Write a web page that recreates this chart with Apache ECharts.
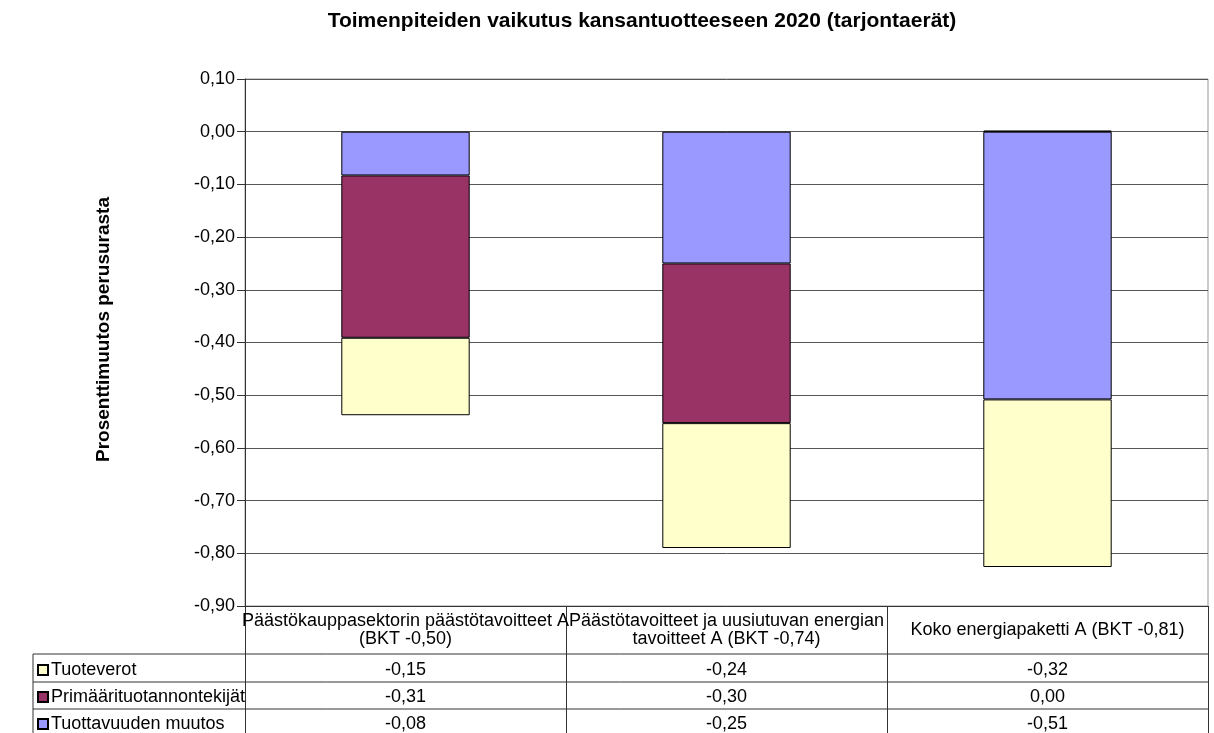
<!DOCTYPE html>
<html>
  <head>
  <meta charset="utf-8">
  <script type="text/javascript" src="https://cdn.jsdelivr.net/npm/echarts@6/dist/echarts.min.js"></script>
  </head>
  <body style="margin:0">
 <div id="main" style="width:1214px;height:733px;"></div>

 <script type="text/javascript">

// toimenpiteet (kategoriat)
var categories = [
  'Päästökauppasektorin päästötavoitteet A\n(BKT -0,50)',
  'Päästötavoitteet ja uusiutuvan energian\ntavoitteet A (BKT -0,74)',
  'Koko energiapaketti A (BKT -0,81)'
];
// sarjat, luettu pylväistä
var tuoteverot = [-0.147, -0.237, -0.318];
var primaari = [-0.308, -0.303, 0.002];
var tuottavuus = [-0.083, -0.25, -0.508];

var seriesNames = ['Tuottavuuden muutos', 'Primäärituotannontekijät', 'Tuoteverot'];
var colors = ['#9999ff', '#993366', '#ffffcc'];
// taulukon rivijärjestys
var tableRows = ['Tuoteverot', 'Primäärituotannontekijät', 'Tuottavuuden muutos'];

var font = "'Liberation Sans', Arial, sans-serif";

function fmt(v) {
  var r = Math.round(v * 100) / 100;
  if (r === 0) r = 0;
  return r.toFixed(2).replace('.', ',');
}

var myChart = echarts.init(document.getElementById('main'));

var gridLeft = 245, gridRight = 1208, gridTop = 79, gridBottom = 606;
var rowMid = [670, 697, 724];

// taulukon lisäakselit
function rowAxis(values, margin) {
  return {
    type: 'category',
    position: 'bottom',
    gridIndex: 0,
    data: values.map(fmt),
    axisLine: { show: false, onZero: false },
    axisTick: { show: false },
    splitLine: { show: false },
    axisLabel: {
      interval: 0,
      margin: margin,
      verticalAlign: 'middle',
      color: '#000',
      fontSize: 18,
      fontFamily: font
    }
  };
}

// yksi selite per taulukon rivi
function rowLegend(name, i) {
  return {
    orient: 'vertical',
    left: 37,
    top: rowMid[i] - 9,
    padding: 0,
    itemWidth: 10,
    itemHeight: 10,
    icon: 'rect',
    data: [name],
    selectedMode: false,
    textStyle: { fontSize: 18, lineHeight: 18, color: '#000', fontFamily: font, padding: [0, 0, 0, -2] }
  };
}

var data = [tuottavuus, primaari, tuoteverot];

var option = {
  animation: false,
  backgroundColor: '#fff',
  title: {
    text: 'Toimenpiteiden vaikutus kansantuotteeseen 2020 (tarjontaerät)',
    left: 637,
    textAlign: 'center',
    top: 6,
    textStyle: { fontSize: 21, fontWeight: 'bold', color: '#000', fontFamily: font }
  },
  legend: tableRows.map(rowLegend),
  grid: {
    left: gridLeft,
    right: 1214 - gridRight,
    top: gridTop,
    bottom: 733 - gridBottom,
    show: true,
    borderColor: '#999',
    borderWidth: 1
  },
  xAxis: [
    {
      type: 'category',
      position: 'bottom',
      data: categories,
      axisLine: { onZero: false, lineStyle: { color: '#333', width: 1 } },
      axisTick: { show: true, interval: 0, length: 127, lineStyle: { color: '#333' } },
      axisLabel: {
        interval: 0,
        margin: 24,
        verticalAlign: 'middle',
        lineHeight: 18,
        color: '#000',
        fontSize: 18,
        fontFamily: font
      }
    },
    rowAxis(tuoteverot, rowMid[0] - gridBottom),
    rowAxis(primaari, rowMid[1] - gridBottom),
    rowAxis(tuottavuus, rowMid[2] - gridBottom)
  ],
  yAxis: {
    type: 'value',
    min: -0.9,
    max: 0.1,
    interval: 0.1,
    name: 'Prosenttimuutos perusurasta',
    nameLocation: 'middle',
    nameRotate: 90,
    nameGap: 132,
    nameTextStyle: { fontSize: 19, fontWeight: 'bold', color: '#000', fontFamily: font, padding: [0, 0, 0, 26] },
    axisLine: { show: true, lineStyle: { color: '#333' } },
    axisTick: { show: true, length: 8, lineStyle: { color: '#333' } },
    axisLabel: {
      margin: 10,
      color: '#000',
      fontSize: 18,
      fontFamily: font,
      formatter: fmt
    },
    splitLine: { lineStyle: { color: '#555', width: 1 } }
  },
  series: seriesNames.map(function (name, i) {
    return {
      name: name,
      type: 'bar',
      stack: 'a',
      barWidth: '40%',
      data: data[i],
      itemStyle: { color: colors[i], borderColor: '#000', borderWidth: 1 }
    };
  }),
  graphic: [
    // taulukon viivat
    { type: 'line', shape: { x1: 33, y1: 654, x2: gridRight, y2: 654 }, style: { stroke: '#333', lineWidth: 1 } },
    { type: 'line', shape: { x1: 33, y1: 682, x2: gridRight, y2: 682 }, style: { stroke: '#333', lineWidth: 1 } },
    { type: 'line', shape: { x1: 33, y1: 709, x2: gridRight, y2: 709 }, style: { stroke: '#333', lineWidth: 1 } },
    { type: 'line', shape: { x1: 33, y1: 654, x2: 33, y2: 733 }, style: { stroke: '#333', lineWidth: 1 } }
  ]
};

myChart.setOption(option);
 </script>

  </body>
</html>
